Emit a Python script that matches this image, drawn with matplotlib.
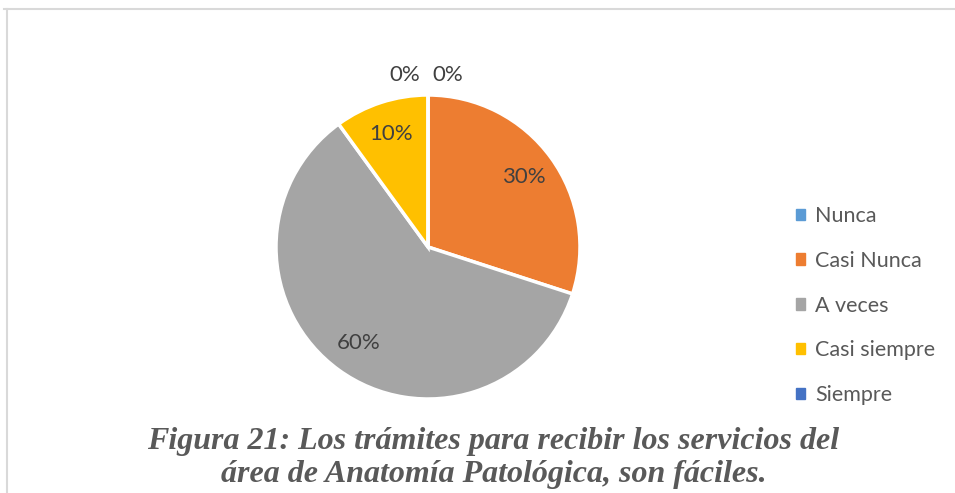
import matplotlib.pyplot as plt
import numpy as np
from matplotlib.lines import Line2D

categorias = ["Nunca", "Casi Nunca", "A veces", "Casi siempre", "Siempre"]
porcentajes = [0, 30, 60, 10, 0]
colores = ["#5B9BD5", "#ED7D31", "#A5A5A5", "#FFC000", "#4472C4"]
titulo = ("Figura 21: Los trámites para recibir los servicios del\n"
          "área de Anatomía Patológica, son fáciles.")

plt.rcParams["font.family"] = ["Lato", "DejaVu Sans"]

fig = plt.figure(figsize=(9.55, 4.93), dpi=100)

# marco del gráfico (solo borde superior e izquierdo visibles)
fig.add_artist(Line2D([0.004, 1.0], [0.981, 0.981], transform=fig.transFigure,
                      color="#D9D9D9", lw=1.5))
fig.add_artist(Line2D([0.007, 0.007], [0.0, 0.981], transform=fig.transFigure,
                      color="#D9D9D9", lw=1.5))

ax = fig.add_axes([428 / 955 - 152 / 955, 1 - (247 + 152) / 493, 304 / 955, 304 / 493])
wedges, _, autotexts = ax.pie(
    porcentajes, colors=colores, startangle=90, counterclock=False,
    autopct=lambda p: f"{p:.0f}%", pctdistance=0.78,
    wedgeprops=dict(edgecolor="white", linewidth=2.5),
    textprops=dict(color="#404040", fontsize=16),
)
ax.set_aspect("equal")
ax.set_xlim(-1, 1)
ax.set_ylim(-1, 1)

# etiquetas de 0% fuera del pie, separadas a ambos lados de la vertical
for i, t in enumerate(autotexts):
    if porcentajes[i] == 0:
        ang = np.deg2rad(wedges[i].theta1)
        dx = -0.15 if i == 0 else 0.13
        t.set_position((1.13 * np.cos(ang) + dx, 1.13 * np.sin(ang)))

handles = [plt.Rectangle((0, 0), 1, 1, color=c) for c in colores]
fig.legend(handles, categorias, loc="center left", bbox_to_anchor=(0.813, 0.5 - 59 / 493),
           frameon=False, fontsize=15.5, labelcolor="#595959",
           handlelength=0.45, handleheight=0.45, handletextpad=0.45,
           labelspacing=1.15)

fig.text(0.5 + 16 / 955, 1 - 458 / 493, titulo, ha="center", va="center",
         family="Liberation Serif", style="italic", weight="bold",
         fontsize=23, color="#595959", linespacing=1.2)

fig.savefig("out.png", dpi=100)
